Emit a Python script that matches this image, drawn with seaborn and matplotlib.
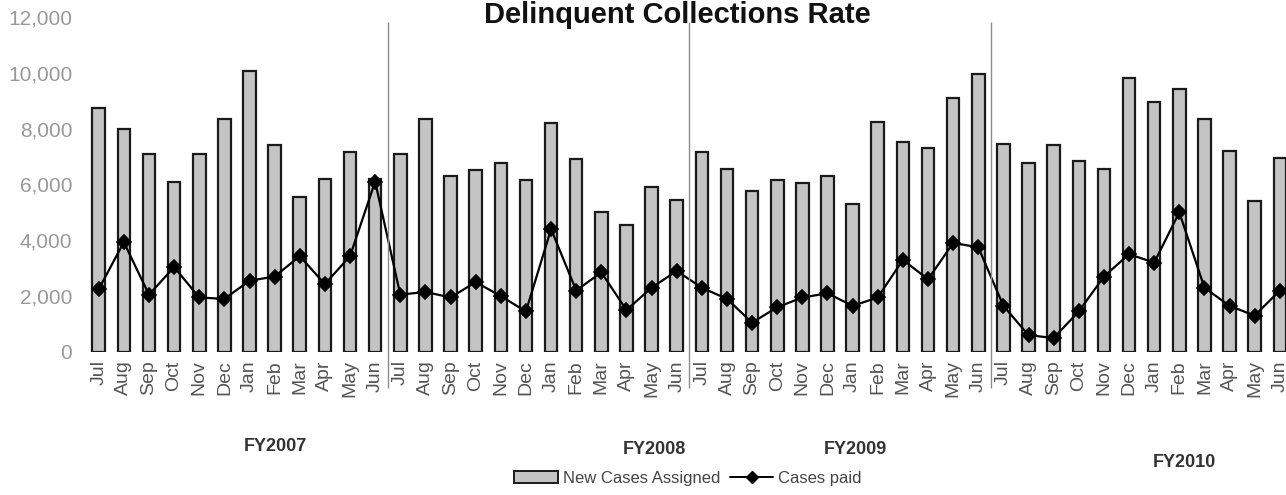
import matplotlib
matplotlib.use("Agg")
import matplotlib.pyplot as plt
from matplotlib.patches import Patch
from matplotlib.lines import Line2D
import seaborn as sns
import pandas as pd

# data (fiscal years run Jul..Jun)
months = ["Jul", "Aug", "Sep", "Oct", "Nov", "Dec",
          "Jan", "Feb", "Mar", "Apr", "May", "Jun"]
fiscal_years = ["FY2007", "FY2008", "FY2009", "FY2010"]

new_cases_fy2007 = [8750, 8000, 7100, 6100, 7100, 8350, 10050, 7400, 5550, 6200, 7150, 6200]
new_cases_fy2008 = [7100, 8350, 6300, 6500, 6750, 6150, 8200, 6900, 5000, 4550, 5900, 5450]
new_cases_fy2009 = [7150, 6550, 5750, 6150, 6050, 6300, 5300, 8250, 7500, 7300, 9100, 9950]
new_cases_fy2010 = [7450, 6750, 7400, 6850, 6550, 9800, 8950, 9400, 8350, 7200, 5400, 6950]

paid_fy2007 = [2250, 3930, 2050, 3040, 1950, 1900, 2550, 2700, 3430, 2430, 3430, 6100]
paid_fy2008 = [2050, 2150, 1950, 2500, 2000, 1450, 4400, 2200, 2850, 1500, 2300, 2900]
paid_fy2009 = [2300, 1900, 1050, 1600, 1950, 2100, 1650, 1950, 3300, 2600, 3900, 3750]
paid_fy2010 = [1650, 600, 500, 1450, 2700, 3500, 3200, 5000, 2300, 1650, 1300, 2200]

new_cases = new_cases_fy2007 + new_cases_fy2008 + new_cases_fy2009 + new_cases_fy2010
paid = paid_fy2007 + paid_fy2008 + paid_fy2009 + paid_fy2010

df = pd.DataFrame({
    "period": [f"{fy}-{m}" for fy in fiscal_years for m in months],
    "month": months * len(fiscal_years),
    "new_cases": new_cases,
    "paid": paid,
})

sns.set_theme(style="white")
plt.rcParams["font.family"] = ["Liberation Sans", "DejaVu Sans"]

fig = plt.figure(figsize=(12.86, 4.95), dpi=100)
ax = fig.add_axes([0.067, 0.289, 0.937, 0.677])

sns.barplot(data=df, x="period", y="new_cases", ax=ax, color="#c4c4c4",
            width=0.5, edgecolor="#1a1a1a", linewidth=1.6, saturation=1)
sns.pointplot(data=df, x="period", y="paid", ax=ax, color="black",
              marker="D", markersize=7, linewidth=1.6)

ax.set_ylim(0, 12000)
ax.set_xlim(-0.5, 47.45)
ax.set_yticks(range(0, 12001, 2000))
ax.set_yticklabels([f"{v:,}" for v in range(0, 12001, 2000)],
                   color="#999999", fontsize=15)
ax.set_xticks(range(len(df)))
ax.set_xticklabels(df["month"], rotation=90, color="#555555", fontsize=14)
ax.tick_params(axis="y", length=0, pad=10)
ax.tick_params(axis="x", length=0, pad=6)
ax.set_xlabel("")
ax.set_ylabel("")
for s in ax.spines.values():
    s.set_visible(False)

# separators between fiscal years
for i in range(1, len(fiscal_years)):
    ax.vlines(i * len(months) - 0.5, -1300, 11800, color="#8c8c8c",
              linewidth=1.0, clip_on=False)

fig.text(0.527, 0.997, "Delinquent Collections Rate", ha="center",
         va="top", fontsize=21, fontweight="bold", color="#111111")

# fiscal-year labels sit at odd spots in the original
fy_pos = [(0.214, 0.097), (0.509, 0.092), (0.665, 0.092), (0.921, 0.066)]
for fy, (fx, fy_y) in zip(fiscal_years, fy_pos):
    fig.text(fx, fy_y, fy, ha="center", va="center", fontsize=13,
             fontweight="bold", color="#333333")

handles = [
    Patch(facecolor="#c4c4c4", edgecolor="#1a1a1a", linewidth=1.4),
    Line2D([0], [0], color="black", marker="D", markersize=6, linewidth=1.4),
]
fig.legend(handles, ["New Cases Assigned", "Cases paid"], loc="center",
           bbox_to_anchor=(0.535, 0.034), ncol=2, frameon=False,
           fontsize=12, handlelength=2.6, columnspacing=0.6, handletextpad=0.3,
           labelcolor="#444444")

fig.savefig("out.png", dpi=100)
